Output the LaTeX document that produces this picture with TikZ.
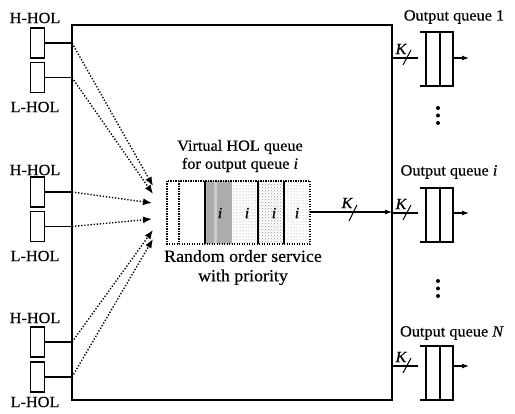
\documentclass[tikz,border=0pt]{standalone}
\usepackage{fontspec}
\setmainfont[FakeStretch=1.05,FakeBold=0.4]{Liberation Serif}
\usetikzlibrary{arrows.meta,patterns}
\tikzset{
  lbl/.style={inner sep=0pt, font=\fontsize{15.5}{18}\selectfont},
  hol/.style={draw, line width=1.1pt, minimum width=14pt, minimum height=30pt, inner sep=0pt},
  dotarrow/.style={line width=1.4pt, dash pattern=on 1.3pt off 1.8pt, -{Latex[length=9pt,width=7pt]}},
  conn/.style={line width=1.1pt},
  slash/.style={line width=1pt},
  kl/.style={inner sep=0pt, font=\fontsize{15.5}{18}\selectfont\itshape},
  qline/.style={line width=1.1pt},
  outarrow/.style={line width=1.1pt, -{Latex[length=7pt,width=5pt]}},
  dotc/.style={circle, fill, inner sep=0pt, minimum size=4pt},
}
\begin{document}
\begin{tikzpicture}[x=1pt,y=-1pt]
\useasboundingbox (0,0) rectangle (515,414);
% big box
\draw[line width=1.3pt] (72,25) rectangle (392,400);
% left HOL groups
\foreach \n/\yh/\yl/\th/\tl in {1/43/77.5/18/107, 2/192/226.5/170/256, 3/342/377/318/402}{
  \node[lbl] (hl\n) at (35,\th) {H-HOL};
  \node[lbl] (ll\n) at (35,\tl) {L-HOL};
  \node[hol] (hb\n) at (37.5,\yh) {};
  \node[hol] (lb\n) at (37.5,\yl) {};
  \coordinate (hp\n) at (72,\yh);
  \coordinate (lp\n) at (72,\yl);
  \draw[conn] (hb\n.east) -- (hp\n);
  \draw[conn] (lb\n.east) -- (lp\n);
}
% arrow targets
\coordinate (t1) at (153,186);
\coordinate (t2) at (153,194);
\coordinate (t3) at (152,203);
\coordinate (t4) at (152,219);
\coordinate (t5) at (153,230);
\coordinate (t6) at (153,239);
\draw[dotarrow] (hp1) -- (t1);
\draw[dotarrow] (lp1) -- (t2);
\draw[dotarrow] (hp2) -- (t3);
\draw[dotarrow] (lp2) -- (t4);
\draw[dotarrow] (hp3) -- (t5);
\draw[dotarrow] (lp3) -- (t6);
% virtual queue
\node[lbl, align=center] (vt) at (240,156) {Virtual HOL queue\\for output queue \textit{i}};
\node[lbl, align=center, font=\fontsize{17}{19.5}\selectfont] (rt) at (243,267.5) {Random order service\\with priority};
\fill[gray!65] (205,181) rectangle (232,244);
\fill[gray!40] (214,181) rectangle (217,244);
\fill[pattern=dots, pattern color=gray] (232,181) rectangle (258,244);
\fill[pattern=crosshatch dots, pattern color=gray!80] (258,181) rectangle (284,244);
\fill[pattern=dots, pattern color=gray!80] (284,181) rectangle (310,244);
\draw[line width=1.2pt, dash pattern=on 1.2pt off 1.3pt] (167,181) rectangle (310,244);
\draw[line width=1.1pt, dash pattern=on 1.2pt off 1.3pt] (179,181) -- (179,244);
\draw[line width=1.1pt] (205,181) -- (205,244);
\draw[line width=1.8pt] (258,181) -- (258,244);
\draw[line width=1.8pt] (284,181) -- (284,244);
\node[kl] at (220,213) {i};
\node[kl] at (247,213) {i};
\node[kl] at (274,213) {i};
\node[kl] at (297,213) {i};
\coordinate (vq) at (310,212);
\coordinate (bx) at (392,212);
\draw[outarrow] (vq) -- (bx);
\node[kl] at (347,203) {K};
\draw[slash] (349,221) -- (357,205);
% output queues
\foreach \n/\yt/\yb/\yc/\ty/\tx/\txt in {1/32/86/58/17/454/{Output queue 1}, 2/188/242/213/172/449/{Output queue \textit{i}}, 3/346/400/366/333/452/{Output queue \textit{N}}}{
  \node[lbl] (oq\n) at (\tx,\ty) {\txt};
  \draw[qline] (420,\yt) -- (453,\yt) -- (453,\yb) -- (420,\yb);
  \draw[qline] (426,\yt) -- (426,\yb);
  \draw[line width=1.4pt] (440,\yt) -- (440,\yb);
  \coordinate (oi\n) at (392,\yc);
  \coordinate (oe\n) at (418,\yc);
  \coordinate (os\n) at (453,\yc);
  \coordinate (oo\n) at (469,\yc);
  \draw[qline] (oi\n) -- (oe\n);
  \draw[outarrow] (os\n) -- (oo\n);
  \node[kl] at (401,\yc-9) {K};
  \draw[slash] (403,\yc+7) -- (411,\yc-8);
}
% dots
\foreach \y in {108,115.5,123,281,288.5,296}{
  \node[dotc] at (438,\y) {};
}
\end{tikzpicture}
\end{document}
